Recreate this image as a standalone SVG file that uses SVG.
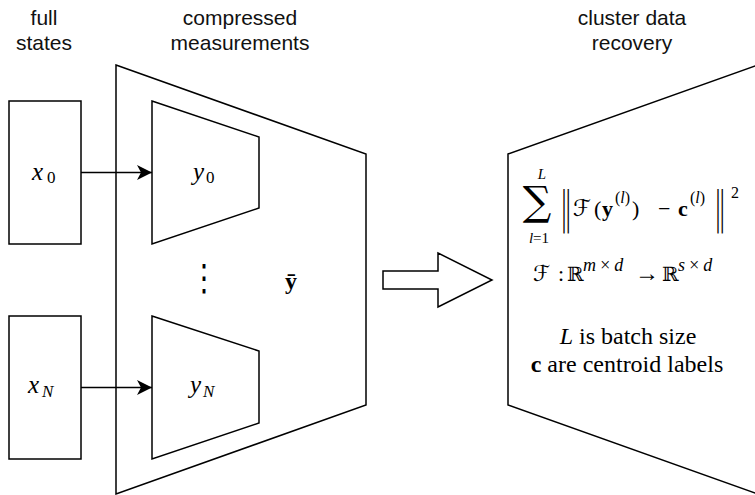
<svg xmlns="http://www.w3.org/2000/svg" width="755" height="495" viewBox="0 0 755 495">
<defs>
<marker id="ah" markerWidth="16" markerHeight="16" refX="15" refY="7.5" orient="auto" markerUnits="userSpaceOnUse">
<path d="M0,0 L15,7.5 L0,15 L4,7.5 Z" fill="#000"/>
</marker>
</defs>
<style>
.s{fill:#fff;stroke:#000;stroke-width:1.5;stroke-linejoin:miter}
.c{fill:none;stroke:#000;stroke-width:1.5}
.t{font-family:"Liberation Sans",Arial,sans-serif;font-size:21px;fill:#111;text-anchor:middle}
.m{font-family:"Liberation Serif","DejaVu Serif",serif;font-style:italic;fill:#000}
.r{font-family:"Liberation Serif","DejaVu Serif",serif;fill:#000}
.b{font-family:"Liberation Serif","DejaVu Serif",serif;font-weight:bold;fill:#000}
.d{font-family:"DejaVu Serif","DejaVu Sans",serif;fill:#000}
.n{font-family:"DejaVu Sans",sans-serif;font-weight:200;font-size:44px;fill:#000;text-anchor:middle}
</style>
<rect width="755" height="495" fill="#fff"/>

<g id="title-full">
<text class="t" x="44" y="25">full</text>
<text class="t" x="44" y="50">states</text>
</g>
<g id="title-compressed">
<text class="t" x="240" y="25">compressed</text>
<text class="t" x="240" y="50">measurements</text>
</g>
<g id="title-cluster">
<text class="t" x="632" y="25">cluster data</text>
<text class="t" x="632" y="50">recovery</text>
</g>

<g id="compressed-block">
<polygon class="s" points="116,65 366,154 366,405 116,494"/>
<text class="b" x="291" y="289" font-size="24" text-anchor="middle">ȳ</text>
<text class="d" transform="translate(204,290) scale(1,1.3)" font-size="28" text-anchor="middle">⋮</text>
</g>

<g id="x0">
<rect class="s" x="9" y="101" width="72" height="143"/>
<text x="32" y="180"><tspan class="m" font-size="25">x</tspan><tspan class="r" font-size="17" x="47" y="183">0</tspan></text>
</g>
<g id="xN">
<rect class="s" x="9" y="316" width="72" height="143"/>
<text x="28" y="393"><tspan class="m" font-size="25">x</tspan><tspan class="m" font-size="17" x="42" y="397">N</tspan></text>
</g>

<g id="y0">
<polygon class="s" points="152,101 259,137 259,208 152,244"/>
<text x="193" y="180"><tspan class="m" font-size="25">y</tspan><tspan class="r" font-size="17" x="206" y="183">0</tspan></text>
</g>
<g id="yN">
<polygon class="s" points="152,316 259,351 259,423 152,459"/>
<text x="190" y="393"><tspan class="m" font-size="25">y</tspan><tspan class="m" font-size="17" x="203" y="397">N</tspan></text>
</g>

<g id="connectors">
<line class="c" x1="81" y1="172.5" x2="152" y2="172.5" marker-end="url(#ah)"/>
<line class="c" x1="81" y1="387.5" x2="152" y2="387.5" marker-end="url(#ah)"/>
<polygon class="s" points="383,271 438,271 438,253 492,280 438,307 438,289 383,289"/>
</g>

<g id="recovery-block">
<polygon class="s" points="508,154 758,65 758,494 508,405"/>
<text class="d" x="537" y="215" font-size="40" text-anchor="middle">∑</text>
<text class="m" x="542" y="179" font-size="15" text-anchor="middle">L</text>
<text x="539" y="243" font-size="15" text-anchor="middle"><tspan class="m">l</tspan><tspan class="r">=1</tspan></text>
<text class="n" transform="translate(566,223) scale(0.6,1)">‖</text>
<text class="d" x="573" y="216" font-size="23">ℱ</text>
<text class="r" x="594" y="216" font-size="22">(</text>
<text class="b" x="602" y="216" font-size="22">y</text>
<text class="r" x="615" y="203" font-size="16">(<tspan class="m">l</tspan>)</text>
<text class="r" x="632" y="216" font-size="22">)</text>
<text class="r" x="658" y="216" font-size="22">−</text>
<text class="b" x="678" y="216" font-size="22">c</text>
<text class="r" x="690" y="203" font-size="16">(<tspan class="m">l</tspan>)</text>
<text class="n" transform="translate(720,223) scale(0.6,1)">‖</text>
<text class="r" x="731" y="198" font-size="16">2</text>

<text class="d" x="533" y="281" font-size="22">ℱ</text>
<text class="r" x="558" y="281" font-size="22">:</text>
<text class="d" x="567" y="281" font-size="20">ℝ</text>
<text class="m" x="583" y="271" font-size="18">m<tspan class="r" dx="3">×</tspan><tspan dx="3">d</tspan></text>
<text class="r" x="635" y="281" font-size="24">→</text>
<text class="d" x="662" y="281" font-size="20">ℝ</text>
<text class="m" x="678" y="271" font-size="18">s<tspan class="r" dx="3">×</tspan><tspan dx="3">d</tspan></text>

<text x="628" y="344" font-size="24" text-anchor="middle"><tspan class="m">L</tspan><tspan class="r"> is batch size</tspan></text>
<text x="627" y="372" font-size="24" text-anchor="middle"><tspan class="b">c</tspan><tspan class="r"> are centroid labels</tspan></text>
</g>
</svg>
